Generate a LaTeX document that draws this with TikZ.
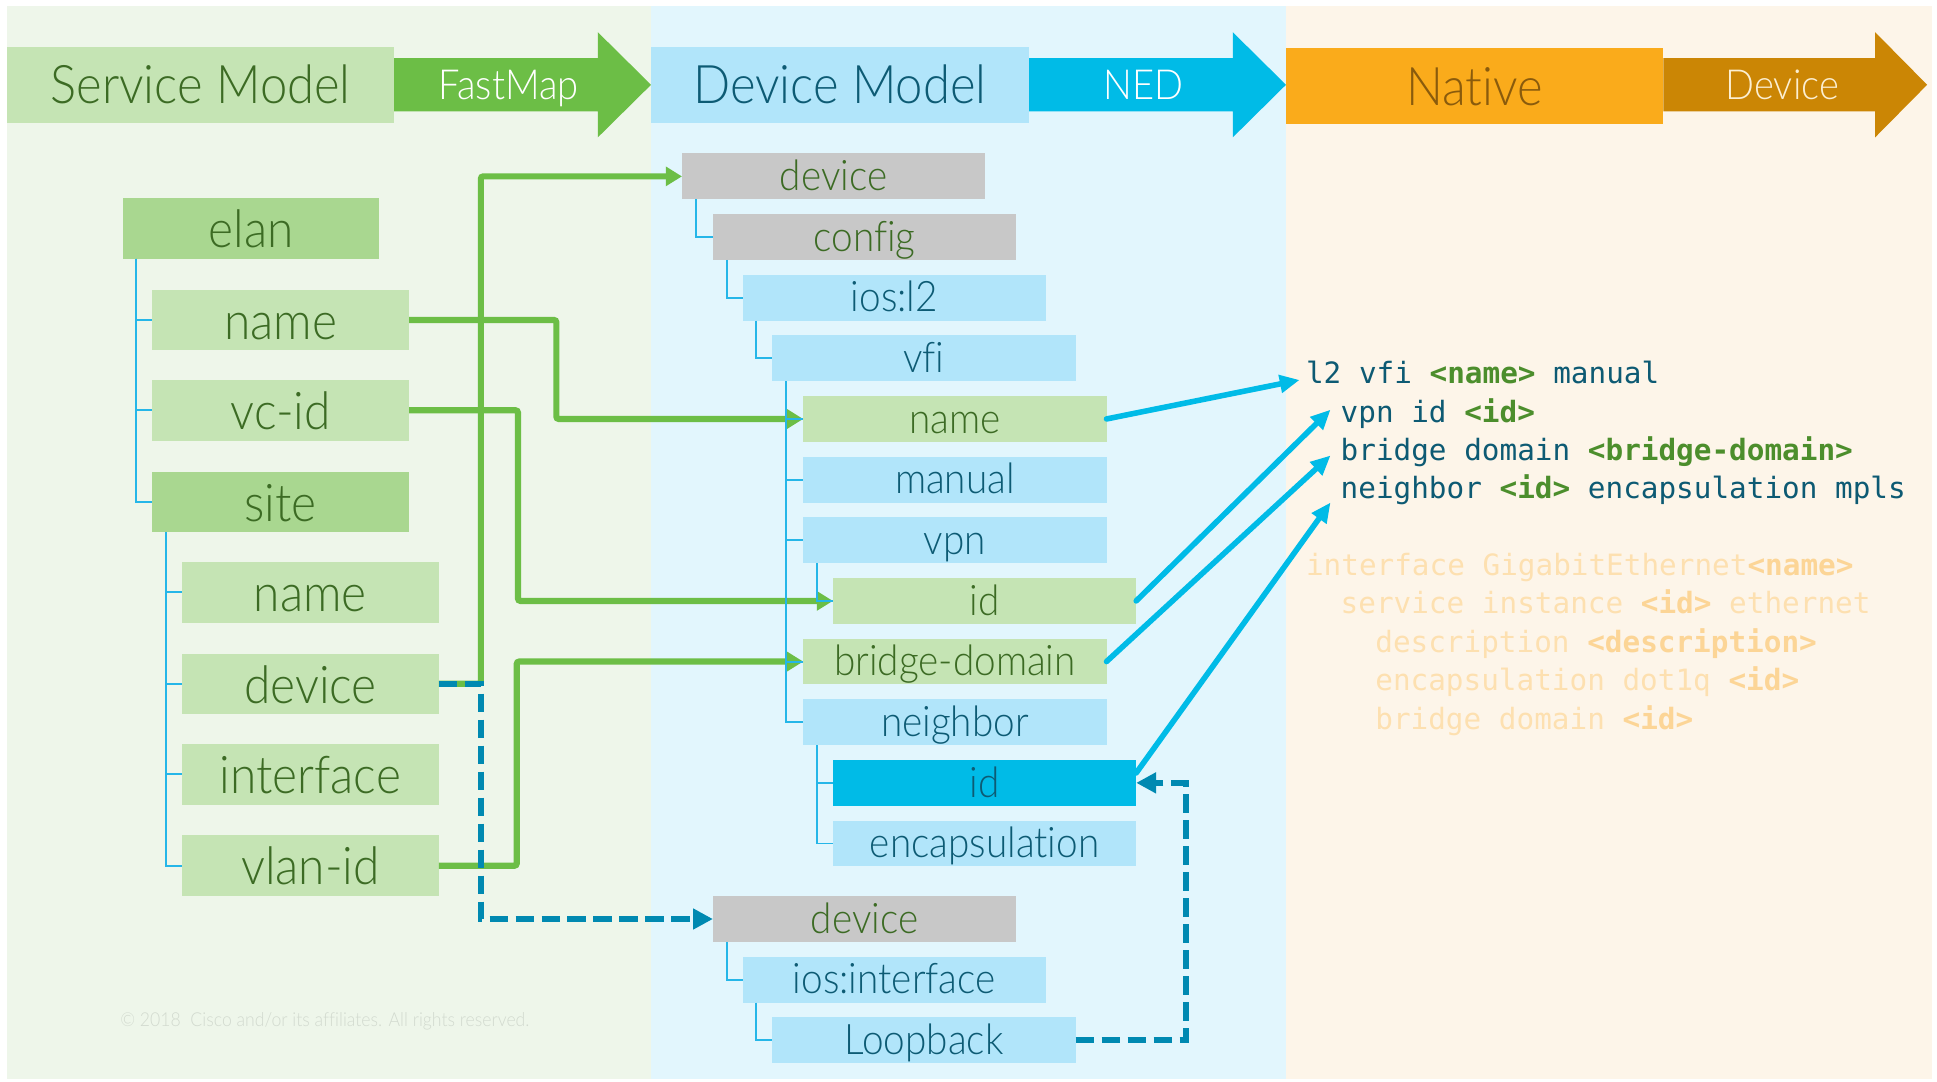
\documentclass[tikz,border=0pt]{standalone}
\usepackage{fontspec}
\setmainfont{Lato Light}[Ligatures=NoCommon, FakeStretch=0.92]
\newfontfamily\monof{DejaVu Sans Mono}
\usetikzlibrary{arrows.meta}
\definecolor{bgGreen}{HTML}{EEF6EA}
\definecolor{bgBlue}{HTML}{E2F6FD}
\definecolor{bgOrange}{HTML}{FDF5E9}
\definecolor{boxGreen}{HTML}{C5E4B4}
\definecolor{boxGreenD}{HTML}{A9D790}
\definecolor{arrGreen}{HTML}{6CBE46}
\definecolor{txtGreen}{HTML}{3C6B24}
\definecolor{boxBlue}{HTML}{B1E5FA}
\definecolor{arrBlue}{HTML}{00BBE7}
\definecolor{txtBlue}{HTML}{0D5B74}
\definecolor{boxGray}{HTML}{C8C8C8}
\definecolor{boxOrange}{HTML}{FAAB1B}
\definecolor{arrOrange}{HTML}{CB8605}
\definecolor{txtNative}{HTML}{8A5B0C}
\definecolor{txtDevice}{HTML}{FCEFD2}
\definecolor{treeBlue}{HTML}{25B6E8}
\definecolor{dashBlue}{HTML}{0089B1}
\definecolor{monoText}{HTML}{0D5A73}
\definecolor{monoGreen}{HTML}{4C8E2C}
\definecolor{faintText}{HTML}{FDE0B0}
\definecolor{faintBold}{HTML}{FCD596}
\definecolor{copyGray}{HTML}{D2DACF}
\newcommand\gbold[1]{\textbf{\color{monoGreen}#1}}
\newcommand\obold[1]{\textbf{\color{faintBold}#1}}
\tikzset{
  base/.style={anchor=north west, inner sep=0pt, outer sep=0pt, text depth=0pt},
  lnode/.style={base, minimum width=207.5pt, minimum height=49pt, fill=boxGreen, text=txtGreen, font=\fontsize{42}{48}\selectfont, text height=31pt},
  lnoded/.style={lnode, fill=boxGreenD},
  mnode/.style={base, minimum width=245pt, minimum height=37pt, fill=boxBlue, text=txtBlue, font=\fontsize{34}{39}\selectfont, text height=23pt},
  mgray/.style={mnode, fill=boxGray, text=txtGreen},
  mgreen/.style={mnode, fill=boxGreen, text=txtGreen},
  mdark/.style={mnode, fill=arrBlue, text=txtBlue},
  hnode/.style={base, minimum height=61pt, font=\fontsize{43}{49}\selectfont, text height=31pt},
  atext/.style={inner sep=0pt, font=\fontsize{33.5}{38}\selectfont, text height=23pt, text depth=0pt},
  gline/.style={draw=arrGreen, line width=5pt, rounded corners=2pt, -{Triangle[length=13pt,width=15pt]}},
  tline/.style={draw=treeBlue, line width=1.6pt},
  dline/.style={draw=dashBlue, line width=5pt, dash pattern=on 15pt off 6pt, -{Triangle[length=16pt,width=16pt]}},
  bline/.style={draw=arrBlue, line width=4.5pt, line cap=round, -{Triangle[length=16pt,width=14pt]}},
  mono/.style={anchor=base west, inner sep=0pt, text=monoText, font=\monof\fontsize{23.7}{28}\selectfont},
  faint/.style={mono, text=faintText},
}
\begin{document}
\begin{tikzpicture}[x=1pt,y=-1pt]
\useasboundingbox (0,0) rectangle (1565,873.4);
% panels
\fill[bgGreen] (6,5) rectangle (526,872);
\fill[bgBlue] (526,5) rectangle (1039,872);
\fill[bgOrange] (1039,5) rectangle (1561,872);
% header
\fill[arrGreen] (318,47) -- (483,47) -- (483,26) -- (526,68.5) -- (483,111) -- (483,90) -- (318,90) -- cycle;
\fill[arrBlue] (831,47) -- (996,47) -- (996,26) -- (1039,68.5) -- (996,111) -- (996,90) -- (831,90) -- cycle;
\fill[arrOrange] (1344,47) -- (1515,47) -- (1515,26) -- (1557,68.5) -- (1515,111) -- (1515,90) -- (1344,90) -- cycle;
\node[hnode, minimum width=312pt, fill=boxGreen, text=txtGreen] (svc) at (6,38) {Service Model};
\node[hnode, minimum width=305pt, fill=boxBlue, text=txtBlue] (devm) at (526,38) {Device Model};
\node[hnode, minimum width=305pt, fill=boxOrange, text=txtNative] (nat) at (1039,39) {Native};
\node[atext, text=white] (fm) at (411,68.5) {FastMap};
\node[atext, text=white] (ned) at (924,68.5) {NED};
\node[atext, text=txtDevice] (dvc) at (1440,68.5) {Device};
% left tree
\node[lnoded] (elan) at (99,160) {elan};
\node[lnode] (ename) at (123,234) {name};
\node[lnode] (vcid) at (123,307) {vc-id};
\node[lnoded] (site) at (123,381) {site};
\node[lnode] (sname) at (147,454) {name};
\node[lnode] (sdev) at (147,528) {device};
\node[lnode] (sif) at (147,601) {interface};
\node[lnode] (vlan) at (147,675) {vlan-id};
% middle tree
\node[mgray] (dev1) at (551,124) {device};
\node[mgray] (cfg) at (576,173) {config};
\node[mnode] (iosl) at (600,222) {ios:l2};
\node[mnode] (vfi) at (624,271) {vfi};
\node[mgreen] (mname) at (649,320) {name};
\node[mnode] (manual) at (649,369) {manual};
\node[mnode] (vpn) at (649,418) {vpn};
\node[mgreen] (vid) at (673,467) {id};
\node[mgreen] (bd) at (649,516) {bridge-domain};
\node[mnode] (nbr) at (649,565) {neighbor};
\node[mdark] (nid) at (673,614) {id};
\node[mnode] (encap) at (673,663) {encapsulation};
\node[mgray] (dev2) at (576,724) {device};
\node[mnode] (iosif) at (600,773) {ios:interface};
\node[mnode] (loop) at (624,822) {Loopback};
% native text
\node[mono] (l1) at (1055,310) {l2 vfi \gbold{<name>} manual};
\node[mono] (l2) at (1083,341) {vpn id \gbold{<id>}};
\node[mono] (l3) at (1083,372) {bridge domain \gbold{<bridge-domain>}};
\node[mono] (l4) at (1083,403) {neighbor \gbold{<id>} encapsulation mpls};
\node[faint] (f1) at (1055,465) {interface GigabitEthernet\obold{<name>}};
\node[faint] (f2) at (1083,496) {service instance \obold{<id>} ethernet};
\node[faint] (f3) at (1111,527) {description \obold{<description>}};
\node[faint] (f4) at (1111,558) {encapsulation dot1q \obold{<id>}};
\node[faint] (f5) at (1111,589) {bridge domain \obold{<id>}};
\node[anchor=base west, inner sep=0pt, text=copyGray, font=\fontsize{15.5}{17}\selectfont] (copy) at (97,829) {© 2018\ \ Cisco and/or its affiliates. All rights reserved.};
% arrow tips on native text
\coordinate (t1) at (1050,307);
\coordinate (t2) at (1075,331);
\coordinate (t3) at (1075,368);
\coordinate (t4) at (1075,406);
% green connectors
\draw[gline] (sdev.east) -- ++(34,0) |- (dev1.west);
\draw[gline] (ename.east) -- ++(119,0) |- (mname.west);
\draw[gline] (vcid.east) -- ++(88,0) |- (vid.west);
\draw[gline] (vlan.east) -- ++(63,0) |- (bd.west);
% tree lines
\foreach \p/\c in {elan/ename, elan/vcid, elan/site}
  \draw[tline] ([xshift=11pt]\p.south west) |- (\c.west);
\foreach \p/\c in {site/sname, site/sdev, site/sif, site/vlan}
  \draw[tline] ([xshift=11.5pt]\p.south west) |- (\c.west);
\foreach \p/\c in {dev1/cfg, cfg/iosl, iosl/vfi, vfi/mname, vfi/manual, vfi/vpn, vfi/bd, vfi/nbr, vpn/vid, nbr/nid, nbr/encap, dev2/iosif, iosif/loop}
  \draw[tline] ([xshift=11pt]\p.south west) |- (\c.west);
% dashed connectors
\draw[dline] (sdev.east) -- ++(34,0) |- (dev2.west);
\draw[dline] (loop.east) -- ++(89,0) |- (nid.east);
% blue arrows
\draw[bline] (mname.east) -- (t1);
\draw[bline] (vid.east) -- (t2);
\draw[bline] (bd.east) -- (t3);
\draw[bline] ([yshift=8pt]nid.east) -- (t4);
\end{tikzpicture}
\end{document}
